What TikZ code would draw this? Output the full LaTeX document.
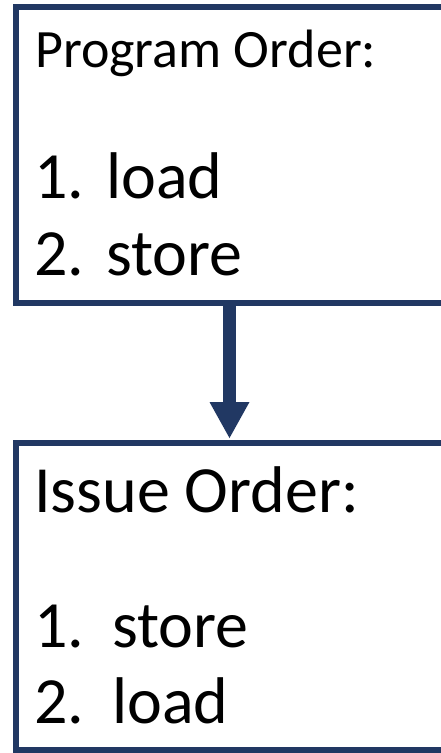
\documentclass[tikz,border=0pt]{standalone}
\usepackage{fontspec}
\setmainfont{Carlito}
\usetikzlibrary{arrows.meta}
\definecolor{navy}{RGB}{33,56,99}
\tikzset{
  box/.style={draw=navy, line width=6pt, fill=white, outer sep=0pt, inner sep=0pt, anchor=north west},
  txt/.style={anchor=base west, inner sep=0pt, text=black},
  flow/.style={draw=navy, line width=13pt, shorten >=5pt,
    -{Triangle[width=40pt, length=36pt, line width=0pt]}}
}
\newcommand{\itemline}[3]{\makebox[#1pt][l]{#2}#3}
\begin{document}
\begin{tikzpicture}[x=1pt, y=1pt]
  \useasboundingbox (0,0) rectangle (441,-753);
  % the two boxes
  \node[box, minimum width=429pt, minimum height=296pt] (prog) at (16,-7) {};
  \node[box, minimum width=429pt, minimum height=307pt] (issue) at (16,-443) {};
  % arrow from program order to issue order
  \draw[flow] ([xshift=-1pt]prog.south) -- ([xshift=-1pt]issue.north);
  % text of the first box
  \node[txt, font=\fontsize{54}{60}\selectfont] (ptitle) at (35,-67) {Program Order:};
  \node[txt, font=\fontsize{66}{72}\selectfont] (p1) at (34,-198) {\itemline{72}{1.}{load}};
  \node[txt, font=\fontsize{66}{72}\selectfont] (p2) at (34,-275) {\itemline{72}{2.}{store}};
  % text of the second box
  \node[txt, font=\fontsize{66}{72}\selectfont] (ititle) at (34,-512) {Issue Order:};
  \node[txt, font=\fontsize{66}{72}\selectfont] (i1) at (34,-647) {\itemline{78}{1.}{store}};
  \node[txt, font=\fontsize{66}{72}\selectfont] (i2) at (34,-723) {\itemline{78}{2.}{load}};
\end{tikzpicture}
\end{document}
